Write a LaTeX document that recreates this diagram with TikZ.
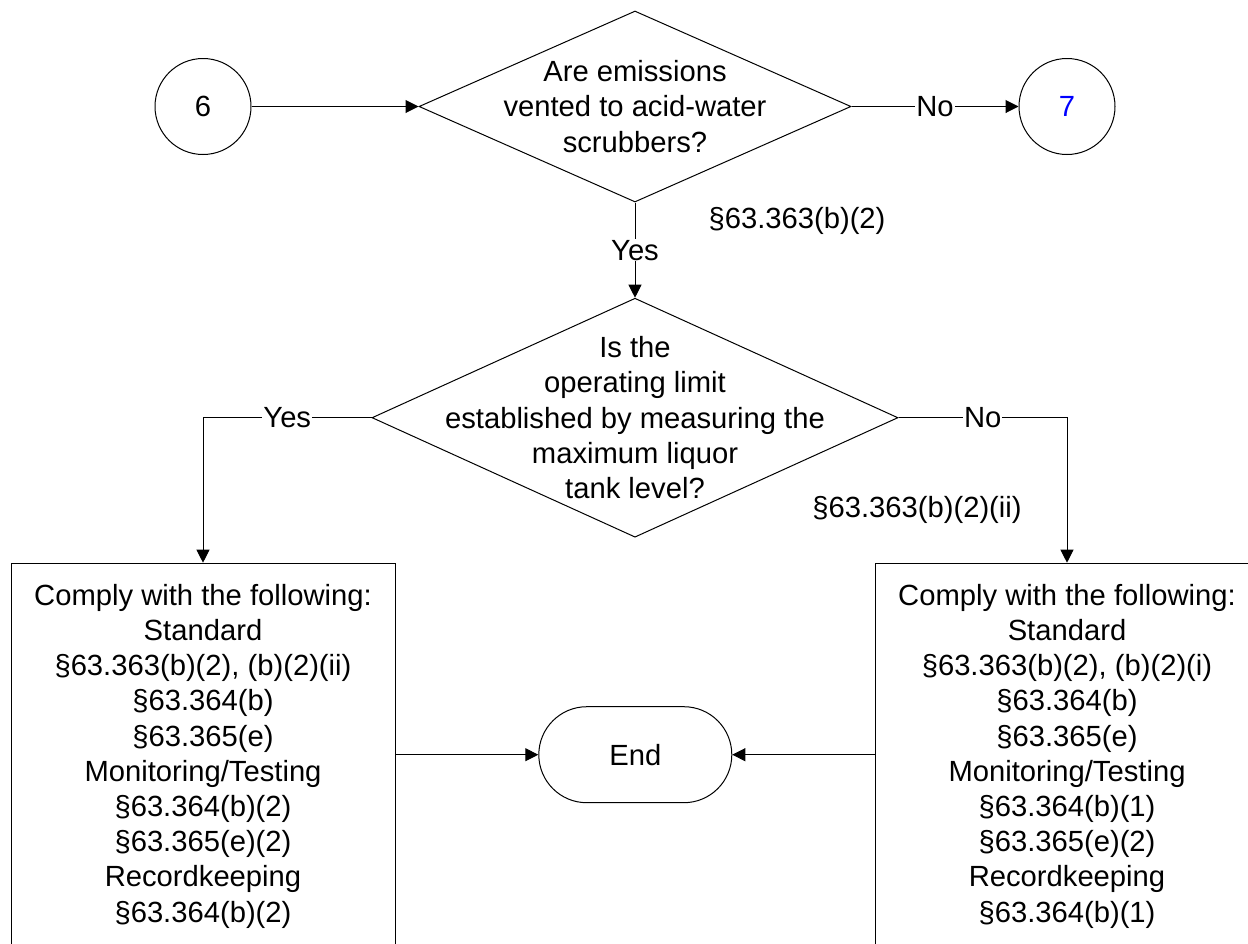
\documentclass[tikz,border=0pt]{standalone}
\usepackage{fontspec}
\setmainfont{Liberation Sans}
\usetikzlibrary{shapes.geometric,shapes.misc,arrows.meta}
\begin{document}
\begin{tikzpicture}[x=1pt,y=-1pt,
  every node/.style={font=\fontsize{29.2}{35.2}\selectfont, text=black},
  line/.style={draw=black, line width=1pt},
  arr/.style={line, -{Triangle[length=13pt,width=13pt]}},
  conn/.style={draw, circle, line width=1pt, minimum size=96pt, inner sep=0pt},
  dec/.style={draw, diamond, line width=1pt, inner sep=0pt},
  dectext/.style={align=center, inner sep=0pt},
  stepbox/.style={draw, rectangle, line width=1pt, minimum width=384pt, inner xsep=0pt, inner ysep=21pt, align=center, anchor=north},
  term/.style={draw, rounded rectangle, minimum width=193pt, minimum height=96pt, line width=1pt, inner sep=0pt},
  lbl/.style={fill=white, inner sep=1pt},
  reftext/.style={inner sep=0pt}
]
\path[use as bounding box] (0,0) rectangle (1248,943);
\clip (0,0) rectangle (1248,943);

\node[conn] (c6) at (203,106.5) {6};
\node[dec, minimum width=432pt, minimum height=191pt,
  label={[dectext]center:{Are emissions\\vented to acid-water\\scrubbers?}}] (d1) at (635,106.5) {};
\node[conn, text=blue] (c7) at (1067,106.5) {7};
\node[reftext] (r1) at (797,221) {§63.363(b)(2)};

\node[dec, minimum width=526pt, minimum height=239pt,
  label={[dectext]center:{Is the\\operating limit\\established by measuring the\\maximum liquor\\tank level?}}] (d2) at (635,417.7) {};
\node[reftext] (r2) at (917,510) {§63.363(b)(2)(ii)};

\node[stepbox] (L) at (203,562.7) {Comply with the following:\\Standard\\§63.363(b)(2), (b)(2)(ii)\\§63.364(b)\\§63.365(e)\\Monitoring/Testing\\§63.364(b)(2)\\§63.365(e)(2)\\Recordkeeping\\§63.364(b)(2)};
\node[stepbox] (R) at (1067,562.7) {Comply with the following:\\Standard\\§63.363(b)(2), (b)(2)(i)\\§63.364(b)\\§63.365(e)\\Monitoring/Testing\\§63.364(b)(1)\\§63.365(e)(2)\\Recordkeeping\\§63.364(b)(1)};

\node[term] (E) at (635.3,754.7) {End};

\draw[arr] (c6.east) -- (d1.west);
\draw[arr] (d1.east) -- node[lbl]{No} (c7.west);
\draw[arr] (d1.south) -- node[lbl]{Yes} (d2.north);
\draw[arr] (d2.west) -| node[lbl,pos=0.25]{Yes} (L.north);
\draw[arr] (d2.east) -| node[lbl,pos=0.25]{No} (R.north);
\draw[arr] (E.west -| L.east) -- (E.west);
\draw[arr] (E.east -| R.west) -- (E.east);
\end{tikzpicture}
\end{document}
